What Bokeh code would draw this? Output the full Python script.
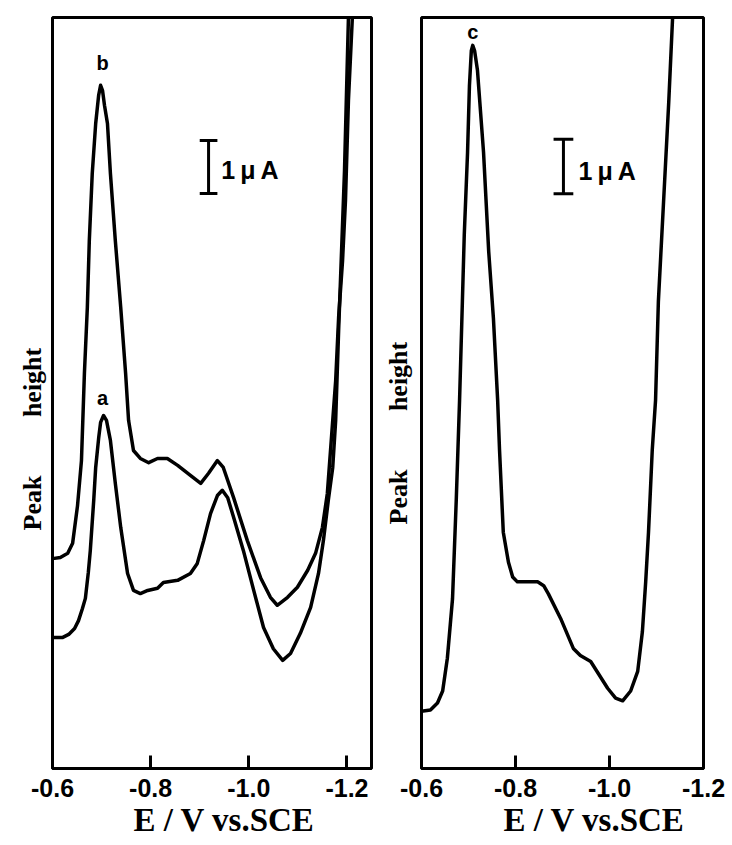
from bokeh.plotting import figure
from bokeh.layouts import row
from bokeh.models import Range1d, FixedTicker, PrintfTickFormatter, Title
from bokeh.core.properties import value
from bokeh.embed import file_html
from bokeh.resources import INLINE

# ---------------- data (E / V vs. SCE, current in uA, arbitrary offset) ----------------
a_E = [-0.600, -0.620, -0.633, -0.645, -0.653, -0.661, -0.667, -0.673, -0.677, -0.684,
       -0.688, -0.694, -0.698, -0.704, -0.710, -0.718, -0.728, -0.739, -0.753, -0.765,
       -0.779, -0.794, -0.814, -0.826, -0.855, -0.881, -0.895, -0.908, -0.922, -0.936,
       -0.946, -0.957, -0.969, -0.989, -1.010, -1.030, -1.050, -1.069, -1.085, -1.105,
       -1.126, -1.142, -1.152, -1.162, -1.171, -1.177, -1.183, -1.189, -1.195, -1.203, -1.205]
a_I = [2.47, 2.47, 2.53, 2.64, 2.79, 3.02, 3.21, 3.70, 4.11, 5.06,
       5.68, 6.23, 6.53, 6.66, 6.57, 6.19, 5.38, 4.55, 3.68, 3.36,
       3.30, 3.36, 3.40, 3.51, 3.55, 3.68, 3.87, 4.30, 4.81, 5.15,
       5.25, 5.11, 4.74, 4.11, 3.36, 2.66, 2.26, 2.04, 2.17, 2.55,
       3.04, 3.68, 4.30, 5.06, 5.68, 6.57, 8.26, 9.77, 11.28, 14.17, 14.68]

b_E = [-0.600, -0.616, -0.631, -0.641, -0.651, -0.659, -0.665, -0.671, -0.675, -0.681,
       -0.688, -0.694, -0.698, -0.702, -0.706, -0.712, -0.718, -0.728, -0.739, -0.749,
       -0.755, -0.765, -0.779, -0.796, -0.814, -0.834, -0.855, -0.881, -0.902, -0.918,
       -0.936, -0.948, -0.969, -0.997, -1.024, -1.044, -1.058, -1.079, -1.099, -1.120,
       -1.136, -1.150, -1.160, -1.168, -1.177, -1.183, -1.191, -1.197, -1.203, -1.211, -1.213]
b_I = [3.96, 3.98, 4.06, 4.25, 4.96, 5.81, 7.45, 8.70, 9.96, 11.23,
       12.17, 12.70, 12.89, 12.79, 12.51, 12.17, 11.23, 9.96, 8.70, 7.45,
       6.57, 6.00, 5.85, 5.77, 5.85, 5.85, 5.72, 5.53, 5.38, 5.57,
       5.81, 5.68, 5.11, 4.30, 3.60, 3.23, 3.08, 3.23, 3.42, 3.74,
       4.06, 4.55, 5.19, 6.19, 7.32, 8.51, 9.58, 10.72, 12.60, 14.17, 14.68]

c_E = [-0.600, -0.619, -0.634, -0.645, -0.655, -0.666, -0.674, -0.681, -0.687, -0.691,
       -0.698, -0.702, -0.706, -0.709, -0.713, -0.719, -0.732, -0.743, -0.753, -0.762,
       -0.766, -0.774, -0.785, -0.794, -0.804, -0.847, -0.860, -0.870, -0.896, -0.923,
       -0.938, -0.960, -0.996, -1.013, -1.028, -1.045, -1.060, -1.070, -1.077, -1.083,
       -1.091, -1.098, -1.104, -1.115, -1.126, -1.134, -1.136]
c_I = [1.05, 1.07, 1.20, 1.42, 2.02, 3.11, 4.93, 6.75, 8.56, 9.78,
       11.29, 12.51, 13.15, 13.25, 13.15, 12.80, 11.29, 9.47, 8.25, 6.75,
       5.84, 4.33, 3.78, 3.51, 3.42, 3.42, 3.35, 3.20, 2.75, 2.20,
       2.07, 1.96, 1.47, 1.29, 1.24, 1.42, 1.78, 2.51, 3.42, 4.33,
       5.84, 6.75, 8.56, 10.38, 12.20, 13.71, 14.20]

x_ticks = [-0.6, -0.8, -1.0, -1.2]
x_title = "E / V vs.SCE"
y_title = "Peak" + "\u00a0" * 9 + "height"
scale_text = "1\u2009\u03bc\u2009A"

SERIF = "Liberation Serif"
SANS = "Liberation Sans"


def make_panel(x_start, x_end, y_top, w, bl, br, bt, bb):
    p = figure(x_range=Range1d(x_start, x_end), y_range=Range1d(0, y_top),
               width=w, height=845,
               min_border_left=bl, min_border_right=br,
               min_border_top=bt, min_border_bottom=bb,
               output_backend="svg", toolbar_location=None,
               background_fill_color="white", border_fill_color="white")
    p.grid.visible = False
    p.yaxis.visible = False
    p.outline_line_color = "black"
    p.outline_line_width = 3
    p.outline_line_alpha = 1
    ax = p.xaxis[0]
    ax.ticker = FixedTicker(ticks=x_ticks)
    ax.formatter = PrintfTickFormatter(format="%.1f")
    ax.axis_line_width = 3
    ax.major_tick_in = 13
    ax.major_tick_out = 0
    ax.major_tick_line_width = 3
    ax.minor_tick_line_color = None
    ax.major_label_text_font = SANS
    ax.major_label_text_font_style = "bold"
    ax.major_label_text_font_size = "25px"
    ax.major_label_text_color = "black"
    ax.major_label_standoff = 10
    return p


def add_titles(p, x_off, y_off, y_standoff):
    p.add_layout(Title(text=x_title, text_font=SERIF, text_font_style="bold",
                       text_font_size="33px", align="left", offset=x_off,
                       standoff=0, text_color="black"), "below")
    p.add_layout(Title(text=y_title, text_font=SERIF, text_font_style="bold",
                       text_font_size="26px", align="left", offset=y_off,
                       standoff=y_standoff, text_color="black"), "left")


def add_text(p, x, y, s, size, align="center"):
    p.text(x=[x], y=[y], text=[s], text_font=value(SANS), text_font_style="bold",
           text_font_size=size, text_align=align, text_baseline="middle", text_color="black")


# ---------------- left panel ----------------
p1 = make_panel(-0.6, -1.25, 14.17, 373, 52, 2, 17, 77)
p1.line(b_E, b_I, line_color="black", line_width=3.5, line_join="round")
p1.line(a_E, a_I, line_color="black", line_width=3.5, line_join="round")
add_text(p1, -0.702, 13.32, "b", "20px")
add_text(p1, -0.702, 7.0, "a", "20px")
p1.segment(x0=[-0.918, -0.900, -0.900], y0=[10.85, 10.85, 11.85],
           x1=[-0.918, -0.936, -0.936], y1=[11.85, 10.85, 11.85],
           line_color="black", line_width=3)
add_text(p1, -0.944, 11.3, scale_text, "25px", "left")
add_titles(p1, 81, 238, 11)

# ---------------- right panel ----------------
p2 = make_panel(-0.6, -1.2, 13.76, 359, 48, 29, 14, 74)
p2.line(c_E, c_I, line_color="black", line_width=3.5, line_join="round")
add_text(p2, -0.709, 13.49, "c", "20px")
p2.segment(x0=[-0.902, -0.881, -0.881], y0=[10.53, 10.53, 11.53],
           x1=[-0.902, -0.923, -0.923], y1=[11.53, 10.53, 11.53],
           line_color="black", line_width=3)
add_text(p2, -0.934, 10.95, scale_text, "25px", "left")
add_titles(p2, 82, 244, 17)

layout = row(p1, p2)
open("out.html", "w").write(file_html(layout, INLINE))
